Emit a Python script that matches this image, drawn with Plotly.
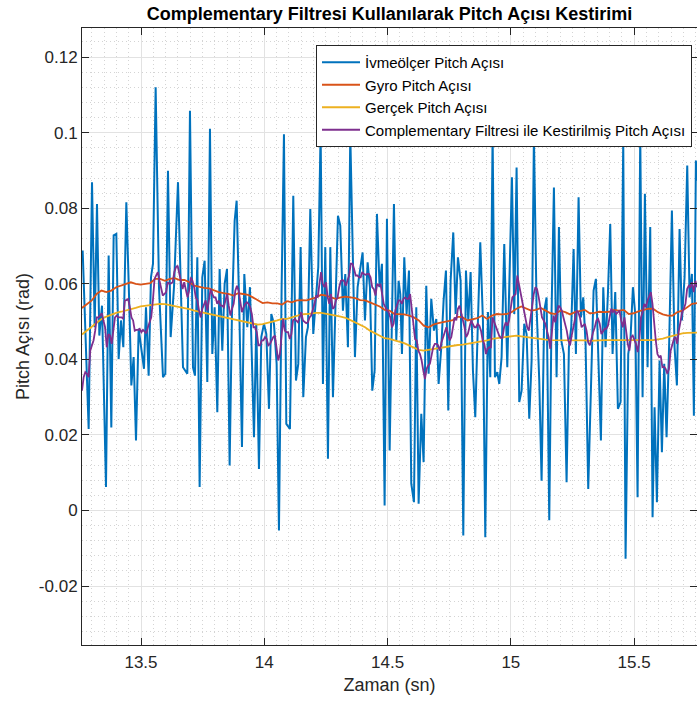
import numpy as np
import plotly.graph_objects as go

# ---------------- data ----------------
ivme_t = [
    13.2634, 13.2877, 13.3013, 13.3121, 13.3215, 13.3310, 13.3418, 13.3580, 13.3688, 13.3796,
    13.3891, 13.3999, 13.4094, 13.4188, 13.4283, 13.4405, 13.4513, 13.4608, 13.4702, 13.4797,
    13.4905, 13.5013, 13.5121, 13.5202, 13.5310, 13.5405, 13.5486, 13.5594, 13.5729, 13.5892,
    13.5986, 13.6094, 13.6203, 13.6338, 13.6500, 13.6703,
    13.6878, 13.6986, 13.7108, 13.7189, 13.7284, 13.7378, 13.7486, 13.7581, 13.7689, 13.7797,
    13.7892, 13.7987, 13.8095, 13.8189, 13.8297, 13.8392, 13.8487, 13.8595, 13.8689, 13.8798,
    13.8879, 13.8987, 13.9095, 13.9190, 13.9311, 13.9419, 13.9582, 13.9676, 13.9784, 13.9879,
    13.9987, 14.0082, 14.0190, 14.0285, 14.0393, 14.0501, 14.0595, 14.0704, 14.0798, 14.0893,
    14.1041, 14.1176, 14.1285, 14.1379, 14.1474, 14.1582, 14.1690, 14.1771, 14.1866, 14.1987,
    14.2096, 14.2190, 14.2285, 14.2379, 14.2474, 14.2582, 14.2677, 14.2785, 14.2907, 14.2988,
    14.3082, 14.3190, 14.3285, 14.3393, 14.3488, 14.3582, 14.3677, 14.3785, 14.3880, 14.3988,
    14.4083, 14.4191, 14.4285, 14.4380, 14.4475, 14.4569, 14.4677, 14.4772, 14.4880, 14.4975,
    14.5084, 14.5178, 14.5259, 14.5354, 14.5448, 14.5516, 14.5584, 14.5678, 14.5773, 14.5868,
    14.5962, 14.6070, 14.6165, 14.6260, 14.6368, 14.6462, 14.6570, 14.6665, 14.6773, 14.6881,
    14.6976, 14.7071, 14.7179, 14.7273, 14.7368, 14.7463, 14.7557, 14.7665, 14.7760, 14.7854,
    14.7963, 14.8071, 14.8179, 14.8274, 14.8368, 14.8463, 14.8557, 14.8666, 14.8760, 14.8868,
    14.8963, 14.9071, 14.9166,
    14.9260, 14.9355, 14.9449, 14.9530, 14.9625, 14.9733, 14.9855, 14.9963, 15.0044, 15.0139,
    15.0233, 15.0341, 15.0436, 15.0544, 15.0639, 15.0747, 15.0842, 15.0936, 15.1044, 15.1152,
    15.1247, 15.1355, 15.1450, 15.1558, 15.1653, 15.1747, 15.1855, 15.1950, 15.2045, 15.2153,
    15.2261, 15.2355, 15.2450, 15.2545, 15.2639, 15.2747, 15.2842, 15.2937, 15.3031, 15.3139,
    15.3248,
    15.3356, 15.3450, 15.3558, 15.3653, 15.3748, 15.3842, 15.3937, 15.4031, 15.4126, 15.4234,
    15.4342, 15.4450, 15.4559, 15.4653, 15.4761, 15.4856, 15.4951, 15.5045, 15.5140, 15.5248,
    15.5343, 15.5437, 15.5545, 15.5653, 15.5748, 15.5829, 15.5924, 15.6032, 15.6127, 15.6221,
    15.6316, 15.6424, 15.6532, 15.6640, 15.6735, 15.6843, 15.6938, 15.7046, 15.7154, 15.7249,
    15.7343, 15.7424, 15.7505, 15.7546,
]
ivme_v = [
    0.0688, 0.0216, 0.0869, 0.0485, 0.0811, 0.0463, 0.0542, 0.0062, 0.0675, 0.0220,
    0.0728, 0.0732, 0.0401, 0.0503, 0.0432, 0.0816, 0.0573, 0.0331, 0.0406, 0.0185,
    0.0481, 0.0432, 0.0375, 0.0538, 0.0357, 0.0617, 0.0653, 0.1120, 0.0591, 0.0353,
    0.0362, 0.0899, 0.0459, 0.0591, 0.0869, 0.0379,
    0.0362, 0.1058, 0.0379, 0.0357, 0.0670, 0.0062, 0.0617, 0.0661, 0.0340, 0.1010,
    0.0414, 0.0538, 0.0260, 0.0639, 0.0423, 0.0600, 0.0639, 0.0119, 0.0520, 0.0767,
    0.0820, 0.0529, 0.0168, 0.0626, 0.0485, 0.0591, 0.0194, 0.0494, 0.0110, 0.0459,
    0.0494, 0.0467, 0.0269, 0.0520, 0.0494, 0.0388, -0.0053, 0.0591, 0.0996, 0.0229,
    0.0216, 0.0833, 0.0344, 0.0388, 0.0697, 0.0300, 0.0459, 0.0485, 0.0798, 0.0467,
    0.0564, 0.0644, 0.1005, 0.0335, 0.0697, 0.0137, 0.0697, 0.0300, 0.0591, 0.0780,
    0.0754, 0.0529, 0.0626, 0.0432, 0.0996, 0.0653, 0.0406, 0.0591, 0.0635, 0.0683,
    0.0503, 0.0657, 0.0591, 0.0317, 0.0370, 0.0785, 0.0591, 0.0653, 0.0013, 0.0772,
    0.0159, 0.0582, 0.0811, 0.0450, 0.0608, 0.0573, 0.0414, 0.0670, 0.0520, 0.0635,
    0.0071, 0.0022, 0.0538, 0.0018, 0.0256, 0.0128, 0.0595, 0.0362, 0.0560, 0.0476,
    0.0507, 0.0335, 0.0432, 0.0556, 0.0635, 0.0265, 0.0608, 0.0736, 0.0520, 0.0670,
    0.0608, -0.0066, 0.0635, 0.0503, 0.0631, 0.0370, 0.0247, 0.0503, 0.0710, 0.0503,
    -0.0071, 0.0525, 0.0353,
    0.0996, 0.0353, 0.0366, 0.0335, 0.0406, 0.0705, 0.0379, 0.0644, 0.0882, 0.0520,
    0.0908, 0.0287, 0.0317, 0.0494, 0.0467, 0.0243, 0.0397, 0.0992, 0.0538, 0.0344,
    0.0079, 0.0529, 0.0564, -0.0026, 0.0529, 0.0855, 0.0353, 0.0750, 0.0450, 0.0414,
    0.0075, 0.0432, 0.0485, 0.0692, 0.0414, 0.0829, 0.0511, 0.0564, 0.0441, 0.0057,
    0.0300,
    0.0582, 0.0613, 0.0414, 0.0185, 0.0591, 0.0432, 0.0573, 0.0758, 0.0414, 0.0578,
    0.0269, 0.0287, 0.0979, -0.0128, 0.0414, 0.0459, 0.0591, 0.0520, 0.0035, 0.0996,
    0.0300, 0.0838, 0.0379, 0.0750, -0.0018, 0.0273, 0.0022, 0.0397, 0.0154, 0.0388,
    0.0194, 0.0450, 0.0794, 0.0432, 0.0331, 0.0745, 0.0503, 0.0617, 0.0913, 0.0564,
    0.0626, 0.0251, 0.0926, 0.0873,
]

gyro_v = [
    0.0536, 0.0547, 0.0556, 0.0573, 0.0582, 0.0578, 0.0582, 0.0591, 0.0595, 0.0600,
    0.0604, 0.0600, 0.0598, 0.0600, 0.0602, 0.0613, 0.0613, 0.0608, 0.0613, 0.0615, 0.0610,
    0.0610, 0.0604, 0.0595, 0.0591, 0.0589, 0.0588, 0.0582, 0.0578, 0.0575, 0.0573,
    0.0569, 0.0575, 0.0573, 0.0571, 0.0564, 0.0556, 0.0549, 0.0551, 0.0548, 0.0548, 0.0545,
    0.0554, 0.0551, 0.0556, 0.0557, 0.0556, 0.0560, 0.0564, 0.0571, 0.0569, 0.0564,
    0.0560, 0.0564, 0.0566, 0.0564, 0.0562, 0.0557, 0.0556, 0.0551, 0.0545, 0.0540, 0.0531,
    0.0529, 0.0520, 0.0520, 0.0519, 0.0516, 0.0511, 0.0503, 0.0489, 0.0485, 0.0492,
    0.0496, 0.0498, 0.0501, 0.0504, 0.0513, 0.0511, 0.0503, 0.0507, 0.0509, 0.0516, 0.0507,
    0.0516, 0.0520, 0.0519, 0.0520, 0.0525, 0.0534, 0.0540, 0.0534, 0.0529, 0.0531,
    0.0536, 0.0529, 0.0522, 0.0520, 0.0529, 0.0525, 0.0519, 0.0525, 0.0529, 0.0531, 0.0522,
    0.0523, 0.0526, 0.0525, 0.0526, 0.0531, 0.0529, 0.0531, 0.0520, 0.0522, 0.0527,
    0.0531, 0.0534, 0.0534, 0.0525, 0.0519, 0.0516, 0.0516, 0.0525, 0.0529, 0.0538, 0.0547,
    0.0549,
]

gercek_v = [
    0.0466, 0.0476, 0.0487, 0.0498, 0.0507, 0.0513, 0.0519, 0.0523, 0.0526, 0.0529,
    0.0533, 0.0536, 0.0540, 0.0542, 0.0545, 0.0547, 0.0547, 0.0546, 0.0544, 0.0541, 0.0538,
    0.0536, 0.0533, 0.0529, 0.0526, 0.0523, 0.0520, 0.0518, 0.0514, 0.0511, 0.0509,
    0.0505, 0.0503, 0.0501, 0.0497, 0.0494, 0.0492, 0.0493, 0.0496, 0.0498, 0.0503, 0.0507,
    0.0507, 0.0511, 0.0516, 0.0519, 0.0520, 0.0522, 0.0523, 0.0523, 0.0521, 0.0519,
    0.0516, 0.0513, 0.0510, 0.0504, 0.0498, 0.0492, 0.0485, 0.0476, 0.0469, 0.0462, 0.0456,
    0.0454, 0.0451, 0.0448, 0.0443, 0.0437, 0.0430, 0.0425, 0.0423, 0.0425, 0.0428,
    0.0430, 0.0432, 0.0435, 0.0437, 0.0438, 0.0439, 0.0441, 0.0443, 0.0445, 0.0447, 0.0450,
    0.0454, 0.0456, 0.0458, 0.0459, 0.0461, 0.0463, 0.0461, 0.0459, 0.0458, 0.0456,
    0.0454, 0.0452, 0.0451, 0.0451, 0.0451, 0.0451, 0.0451, 0.0450, 0.0450, 0.0450, 0.0449,
    0.0450, 0.0450, 0.0451, 0.0451, 0.0451, 0.0450, 0.0450, 0.0450, 0.0450, 0.0450,
    0.0451, 0.0451, 0.0451, 0.0453, 0.0455, 0.0459, 0.0463, 0.0466, 0.0469, 0.0470, 0.0471,
    0.0471,
]

comp_v = [
    # 13.26 - 13.67
    0.0317, 0.0353, 0.0366, 0.0362, 0.0353, 0.0423, 0.0437, 0.0450, 0.0476, 0.0511,
    0.0511, 0.0516, 0.0522, 0.0503, 0.0485, 0.0432, 0.0467, 0.0463, 0.0441, 0.0476,
    0.0511, 0.0516, 0.0511, 0.0511, 0.0511, 0.0507, 0.0556, 0.0557, 0.0560, 0.0538,
    0.0511, 0.0503, 0.0476, 0.0478, 0.0478, 0.0481, 0.0472, 0.0478, 0.0472, 0.0469,
    0.0485, 0.0498, 0.0511, 0.0556, 0.0613, 0.0622, 0.0631, 0.0608, 0.0591, 0.0569,
    0.0573, 0.0578, 0.0604, 0.0600, 0.0601, 0.0604, 0.0631, 0.0644, 0.0648, 0.0626,
    0.0604, 0.0586,
    # 13.67 - 14.09
    0.0604, 0.0582, 0.0564, 0.0582, 0.0617, 0.0608, 0.0591, 0.0564, 0.0556, 0.0529,
    0.0511, 0.0534, 0.0547, 0.0556, 0.0529, 0.0556, 0.0586, 0.0573, 0.0564, 0.0564,
    0.0547, 0.0556, 0.0542, 0.0542, 0.0538, 0.0556, 0.0573, 0.0542, 0.0516, 0.0534,
    0.0547, 0.0582, 0.0595, 0.0582, 0.0556, 0.0525, 0.0538, 0.0547, 0.0551, 0.0547,
    0.0538, 0.0520, 0.0485, 0.0485, 0.0472, 0.0437, 0.0437, 0.0450, 0.0450, 0.0459,
    0.0454, 0.0437, 0.0441, 0.0450, 0.0459, 0.0463, 0.0428, 0.0397, 0.0414, 0.0459,
    0.0507, 0.0476,
    # 14.09 - 14.50
    0.0472, 0.0472, 0.0454, 0.0467, 0.0503, 0.0507, 0.0503, 0.0498, 0.0511, 0.0525,
    0.0503, 0.0498, 0.0496, 0.0498, 0.0511, 0.0516, 0.0529, 0.0547, 0.0569, 0.0564,
    0.0600, 0.0631, 0.0600, 0.0591, 0.0604, 0.0564, 0.0547, 0.0573, 0.0534, 0.0538,
    0.0556, 0.0564, 0.0591, 0.0608, 0.0610, 0.0607, 0.0595, 0.0608, 0.0622, 0.0653,
    0.0653, 0.0639, 0.0622, 0.0622, 0.0617, 0.0617, 0.0631, 0.0626, 0.0624, 0.0626,
    0.0626, 0.0617, 0.0591, 0.0586, 0.0569, 0.0600, 0.0595, 0.0600, 0.0573, 0.0547,
    0.0538, 0.0529,
    # 14.50 - 14.92
    0.0525, 0.0511, 0.0485, 0.0494, 0.0529, 0.0542, 0.0556, 0.0556, 0.0547, 0.0560,
    0.0564, 0.0560, 0.0560, 0.0573, 0.0529, 0.0494, 0.0454, 0.0450, 0.0423, 0.0414,
    0.0397, 0.0370, 0.0348, 0.0375, 0.0384, 0.0388, 0.0406, 0.0432, 0.0441, 0.0441,
    0.0437, 0.0423, 0.0445, 0.0459, 0.0476, 0.0485, 0.0467, 0.0450, 0.0459, 0.0485,
    0.0511, 0.0503, 0.0534, 0.0542, 0.0525, 0.0507, 0.0485, 0.0459, 0.0467, 0.0485,
    0.0503, 0.0494, 0.0485, 0.0485, 0.0494, 0.0489, 0.0476, 0.0450, 0.0441, 0.0414,
    0.0428, 0.0432,
    # 14.92 - 15.33
    0.0432, 0.0511, 0.0498, 0.0485, 0.0472, 0.0463, 0.0457, 0.0457, 0.0485, 0.0498,
    0.0489, 0.0503, 0.0534, 0.0564, 0.0569, 0.0573, 0.0622, 0.0600, 0.0573, 0.0547,
    0.0525, 0.0503, 0.0485, 0.0476, 0.0511, 0.0547, 0.0573, 0.0591, 0.0586, 0.0564,
    0.0534, 0.0511, 0.0503, 0.0494, 0.0476, 0.0459, 0.0428, 0.0476, 0.0516, 0.0498,
    0.0525, 0.0542, 0.0538, 0.0529, 0.0511, 0.0494, 0.0476, 0.0450, 0.0437, 0.0463,
    0.0485, 0.0511, 0.0529, 0.0525, 0.0511, 0.0485, 0.0489, 0.0494, 0.0476, 0.0445,
    0.0437, 0.0459,
    # 15.33 - 15.76
    0.0472, 0.0485, 0.0503, 0.0507, 0.0494, 0.0467, 0.0476, 0.0481, 0.0481, 0.0489,
    0.0511, 0.0534, 0.0525, 0.0529, 0.0520, 0.0525, 0.0529, 0.0503, 0.0485, 0.0511,
    0.0476, 0.0441, 0.0423, 0.0459, 0.0463, 0.0454, 0.0441, 0.0419, 0.0450, 0.0511,
    0.0525, 0.0547, 0.0538, 0.0556, 0.0569, 0.0578, 0.0547, 0.0494, 0.0450, 0.0414,
    0.0406, 0.0410, 0.0379, 0.0381, 0.0375, 0.0362, 0.0375, 0.0423, 0.0441, 0.0454,
    0.0459, 0.0441, 0.0476, 0.0503, 0.0525, 0.0534, 0.0547, 0.0586, 0.0595, 0.0591,
    0.0604, 0.0578, 0.0608, 0.0591,
]

t_start, t_end = 13.2607, 15.755
smooth_t = np.linspace(t_start, t_end, len(gyro_v))
comp_t = np.linspace(t_start, t_end, len(comp_v))

x_ticks = [13.5, 14, 14.5, 15, 15.5]
x_tick_labels = ["13.5", "14", "14.5", "15", "15.5"]
y_ticks = [-0.02, 0, 0.02, 0.04, 0.06, 0.08, 0.1, 0.12]
y_tick_labels = ["-0.02", "0", "0.02", "0.04", "0.06", "0.08", "0.1", "0.12"]

names = ["İvmeölçer Pitch Açısı", "Gyro Pitch Açısı", "Gerçek Pitch Açısı",
         "Complementary Filtresi ile Kestirilmiş Pitch Açısı"]
colors = ["#0072BD", "#D95319", "#EDB120", "#7E2F8E"]

# ---------------- figure ----------------
FONT = "Liberation Sans, Arial, sans-serif"
AX = "#262626"

fig = go.Figure()
fig.add_trace(go.Scatter(x=ivme_t, y=ivme_v, mode="lines", name=names[0],
                         line=dict(color=colors[0], width=2)))
fig.add_trace(go.Scatter(x=smooth_t, y=gyro_v, mode="lines", name=names[1],
                         line=dict(color=colors[1], width=1.8)))
fig.add_trace(go.Scatter(x=smooth_t, y=gercek_v, mode="lines", name=names[2],
                         line=dict(color=colors[2], width=1.8)))
fig.add_trace(go.Scatter(x=comp_t, y=comp_v, mode="lines", name=names[3],
                         line=dict(color=colors[3], width=1.8)))

axis_common = dict(
    showline=True, linecolor=AX, linewidth=1, mirror="ticks",
    ticks="inside", ticklen=7, tickcolor=AX, tickwidth=1,
    showgrid=True, gridcolor="#e2e2e2", gridwidth=1, zeroline=False,
    tickfont=dict(family=FONT, size=17, color=AX),
    automargin=False,
)

fig.update_layout(
    width=697, height=701,
    margin=dict(l=82, r=0, t=28, b=56),
    paper_bgcolor="white", plot_bgcolor="white",
    title=dict(text="<b>Complementary Filtresi Kullanılarak Pitch Açısı Kestirimi</b>",
               x=0.5, xref="paper", y=1 - 14 / 701, yref="container",
               xanchor="center", yanchor="middle",
               font=dict(family=FONT, size=18, color="black")),
    showlegend=True,
    legend=dict(x=(692 - 82) / 615, y=(645 - 45) / 617, xanchor="right", yanchor="top",
                bgcolor="white", bordercolor=AX, borderwidth=1,
                font=dict(family=FONT, size=15, color="black"),
                itemwidth=38, tracegroupgap=0),
    xaxis=dict(axis_common, range=[t_start, t_end], tickvals=x_ticks, ticktext=x_tick_labels,
               minor=dict(dtick=0.05, tick0=13.5, showgrid=True, gridcolor="#d4d4d4",
                          griddash="1px,3px", gridwidth=1, ticks=""),
               title=dict(text="Zaman (sn)", font=dict(family=FONT, size=18, color=AX),
                          standoff=6),
               ticklabelstandoff=2),
    yaxis=dict(axis_common, range=[-0.0356, 0.1277], tickvals=y_ticks, ticktext=y_tick_labels,
               minor=dict(dtick=0.004, tick0=0, showgrid=True, gridcolor="#d4d4d4",
                          griddash="1px,3px", gridwidth=1, ticks=""),
               title=dict(text="Pitch Açısı (rad)", font=dict(family=FONT, size=18, color=AX),
                          standoff=4),
               ticklabelstandoff=0),
)

fig.write_html("out.html",
               config={"displayModeBar": False},
               post_script="document.body.style.margin='0px';"
                           "document.body.style.overflow='hidden';")
